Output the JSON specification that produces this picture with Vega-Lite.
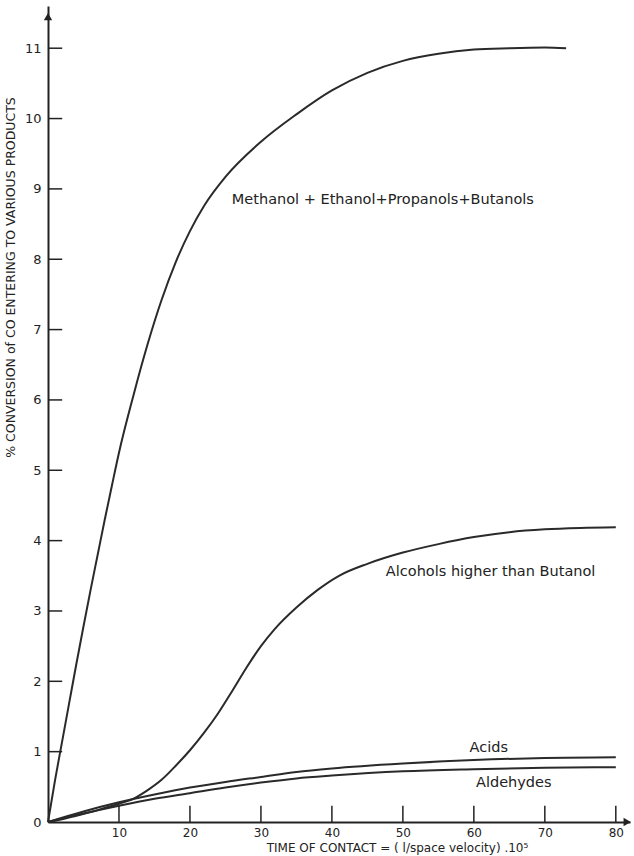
{
  "$schema": "https://vega.github.io/schema/vega-lite/v6.json",
  "width": 582,
  "height": 816,
  "autosize": "none",
  "padding": {"left": 48, "top": 6, "right": 4, "bottom": 34},
  "background": "white",
  "config": {"view": {"stroke": null}, "font": "DejaVu Sans"},
  "datasets": {
    "curves": [
      {"series": "alc", "t": 0, "v": 0},
      {"series": "alc", "t": 1, "v": 0.6},
      {"series": "alc", "t": 2, "v": 1.15},
      {"series": "alc", "t": 3, "v": 1.7},
      {"series": "alc", "t": 4, "v": 2.25},
      {"series": "alc", "t": 5, "v": 2.78},
      {"series": "alc", "t": 6, "v": 3.3},
      {"series": "alc", "t": 7, "v": 3.8},
      {"series": "alc", "t": 8, "v": 4.3},
      {"series": "alc", "t": 9, "v": 4.78},
      {"series": "alc", "t": 10, "v": 5.25},
      {"series": "alc", "t": 12, "v": 6.05},
      {"series": "alc", "t": 14, "v": 6.78},
      {"series": "alc", "t": 16, "v": 7.42},
      {"series": "alc", "t": 18, "v": 7.96},
      {"series": "alc", "t": 20, "v": 8.4},
      {"series": "alc", "t": 22, "v": 8.76},
      {"series": "alc", "t": 25, "v": 9.17},
      {"series": "alc", "t": 30, "v": 9.67},
      {"series": "alc", "t": 35, "v": 10.06},
      {"series": "alc", "t": 40, "v": 10.4},
      {"series": "alc", "t": 45, "v": 10.65},
      {"series": "alc", "t": 50, "v": 10.82},
      {"series": "alc", "t": 55, "v": 10.92},
      {"series": "alc", "t": 60, "v": 10.98},
      {"series": "alc", "t": 65, "v": 11.0},
      {"series": "alc", "t": 70, "v": 11.01},
      {"series": "alc", "t": 73, "v": 11.0},
      {"series": "higher", "t": 0, "v": 0},
      {"series": "higher", "t": 2, "v": 0.04},
      {"series": "higher", "t": 4, "v": 0.09},
      {"series": "higher", "t": 6, "v": 0.14},
      {"series": "higher", "t": 8, "v": 0.2},
      {"series": "higher", "t": 10, "v": 0.26},
      {"series": "higher", "t": 12, "v": 0.33},
      {"series": "higher", "t": 14, "v": 0.45},
      {"series": "higher", "t": 16, "v": 0.6},
      {"series": "higher", "t": 18, "v": 0.8},
      {"series": "higher", "t": 20, "v": 1.02},
      {"series": "higher", "t": 22, "v": 1.27},
      {"series": "higher", "t": 24, "v": 1.55},
      {"series": "higher", "t": 26, "v": 1.87},
      {"series": "higher", "t": 28, "v": 2.2},
      {"series": "higher", "t": 30, "v": 2.5},
      {"series": "higher", "t": 32, "v": 2.75},
      {"series": "higher", "t": 35, "v": 3.05},
      {"series": "higher", "t": 38, "v": 3.3},
      {"series": "higher", "t": 41, "v": 3.5},
      {"series": "higher", "t": 45, "v": 3.67},
      {"series": "higher", "t": 50, "v": 3.83},
      {"series": "higher", "t": 55, "v": 3.95},
      {"series": "higher", "t": 60, "v": 4.05},
      {"series": "higher", "t": 65, "v": 4.12},
      {"series": "higher", "t": 70, "v": 4.16},
      {"series": "higher", "t": 75, "v": 4.18},
      {"series": "higher", "t": 80, "v": 4.19},
      {"series": "acids", "t": 0, "v": 0},
      {"series": "acids", "t": 5, "v": 0.15},
      {"series": "acids", "t": 10, "v": 0.28},
      {"series": "acids", "t": 15, "v": 0.39},
      {"series": "acids", "t": 20, "v": 0.49},
      {"series": "acids", "t": 25, "v": 0.57},
      {"series": "acids", "t": 30, "v": 0.64},
      {"series": "acids", "t": 35, "v": 0.71},
      {"series": "acids", "t": 40, "v": 0.76},
      {"series": "acids", "t": 50, "v": 0.83},
      {"series": "acids", "t": 60, "v": 0.88},
      {"series": "acids", "t": 70, "v": 0.91},
      {"series": "acids", "t": 80, "v": 0.92},
      {"series": "ald", "t": 0, "v": 0},
      {"series": "ald", "t": 5, "v": 0.12},
      {"series": "ald", "t": 10, "v": 0.23},
      {"series": "ald", "t": 15, "v": 0.33},
      {"series": "ald", "t": 20, "v": 0.41},
      {"series": "ald", "t": 25, "v": 0.49},
      {"series": "ald", "t": 30, "v": 0.56},
      {"series": "ald", "t": 35, "v": 0.62},
      {"series": "ald", "t": 40, "v": 0.66},
      {"series": "ald", "t": 50, "v": 0.72},
      {"series": "ald", "t": 60, "v": 0.75},
      {"series": "ald", "t": 70, "v": 0.77},
      {"series": "ald", "t": 80, "v": 0.78}
    ],
    "labels": [
      {"label": "Methanol + Ethanol+Propanols+Butanols", "t": 25.9, "v": 8.84},
      {"label": "Alcohols higher  than Butanol", "t": 47.6, "v": 3.55},
      {"label": "Acids", "t": 59.4, "v": 1.05},
      {"label": "Aldehydes", "t": 60.3, "v": 0.55}
    ]
  },
  "layer": [
    {
      "data": {"name": "curves"},
      "mark": {"type": "line", "interpolate": "monotone", "strokeWidth": 2, "color": "#2a2a2a"},
      "encoding": {
        "x": {
          "field": "t", "type": "quantitative",
          "scale": {"domain": [0, 82], "nice": false, "zero": false},
          "axis": {
            "orient": "bottom",
            "title": "TIME OF CONTACT = ( l/space velocity) .10⁵",
            "values": [0, 10, 20, 30, 40, 50, 60, 70, 80],
            "format": "d",
            "grid": false,
            "ticks": false,
            "domainColor": "#222",
            "domainWidth": 2,
            "labelExpr": "datum.value == 0 ? '' : datum.label",
            "labelFontSize": 12,
            "labelColor": "#222",
            "labelPadding": 5,
            "titleFontSize": 12,
            "titleFontWeight": "normal",
            "titleColor": "#222",
            "titleX": 349,
            "titleY": 29,
            "titleBaseline": "alphabetic"
          }
        },
        "y": {
          "field": "v", "type": "quantitative",
          "scale": {"domain": [0, 11.6], "nice": false},
          "axis": {
            "orient": "left",
            "title": "% CONVERSION of CO ENTERING TO VARIOUS PRODUCTS",
            "values": [0, 1, 2, 3, 4, 5, 6, 7, 8, 9, 10, 11],
            "format": "d",
            "grid": false,
            "ticks": false,
            "domainColor": "#222",
            "domainWidth": 2,
            "labelFontSize": 13,
            "labelColor": "#222",
            "labelPadding": 7,
            "titleFontSize": 12.5,
            "titleFontWeight": "normal",
            "titleColor": "#222",
            "titleAngle": -90,
            "titleX": -38,
            "titleY": 271,
            "titleAlign": "center",
            "titleBaseline": "middle"
          }
        },
        "detail": {"field": "series"}
      }
    },
    {
      "data": {"values": [
        {"seg": "a10", "t": 10, "v": 0}, {"seg": "a10", "t": 10, "v": 0.23},
        {"seg": "a20", "t": 20, "v": 0}, {"seg": "a20", "t": 20, "v": 0.23},
        {"seg": "a30", "t": 30, "v": 0}, {"seg": "a30", "t": 30, "v": 0.23},
        {"seg": "a40", "t": 40, "v": 0}, {"seg": "a40", "t": 40, "v": 0.23},
        {"seg": "a50", "t": 50, "v": 0}, {"seg": "a50", "t": 50, "v": 0.23},
        {"seg": "a60", "t": 60, "v": 0}, {"seg": "a60", "t": 60, "v": 0.23},
        {"seg": "a70", "t": 70, "v": 0}, {"seg": "a70", "t": 70, "v": 0.23},
        {"seg": "a80", "t": 80, "v": 0}, {"seg": "a80", "t": 80, "v": 0.23},
        {"seg": "b1", "t": 0, "v": 1}, {"seg": "b1", "t": 2.0, "v": 1},
        {"seg": "b2", "t": 0, "v": 2}, {"seg": "b2", "t": 2.0, "v": 2},
        {"seg": "b3", "t": 0, "v": 3}, {"seg": "b3", "t": 2.0, "v": 3},
        {"seg": "b4", "t": 0, "v": 4}, {"seg": "b4", "t": 2.0, "v": 4},
        {"seg": "b5", "t": 0, "v": 5}, {"seg": "b5", "t": 2.0, "v": 5},
        {"seg": "b6", "t": 0, "v": 6}, {"seg": "b6", "t": 2.0, "v": 6},
        {"seg": "b7", "t": 0, "v": 7}, {"seg": "b7", "t": 2.0, "v": 7},
        {"seg": "b8", "t": 0, "v": 8}, {"seg": "b8", "t": 2.0, "v": 8},
        {"seg": "b9", "t": 0, "v": 9}, {"seg": "b9", "t": 2.0, "v": 9},
        {"seg": "b10", "t": 0, "v": 10}, {"seg": "b10", "t": 2.0, "v": 10},
        {"seg": "b11", "t": 0, "v": 11}, {"seg": "b11", "t": 2.0, "v": 11}
      ]},
      "mark": {"type": "line", "strokeWidth": 1.5, "color": "#222", "opacity": 1},
      "encoding": {
        "x": {"field": "t", "type": "quantitative"},
        "y": {"field": "v", "type": "quantitative"},
        "detail": {"field": "seg", "type": "nominal"}
      }
    },
    {
      "data": {"name": "labels"},
      "mark": {"type": "text", "align": "left", "baseline": "middle", "fontSize": 14.5, "color": "#222"},
      "encoding": {
        "x": {"field": "t", "type": "quantitative"},
        "y": {"field": "v", "type": "quantitative"},
        "text": {"field": "label"}
      }
    },
    {
      "data": {"values": [{}]},
      "mark": {"type": "point", "shape": "triangle-up", "filled": true, "size": 70, "color": "#222", "opacity": 1},
      "encoding": {"x": {"datum": 0}, "y": {"datum": 11.45}}
    },
    {
      "data": {"values": [{}]},
      "mark": {"type": "point", "shape": "triangle-right", "filled": true, "size": 70, "color": "#222", "opacity": 1},
      "encoding": {"x": {"datum": 81.6}, "y": {"datum": 0}}
    }
  ]
}
